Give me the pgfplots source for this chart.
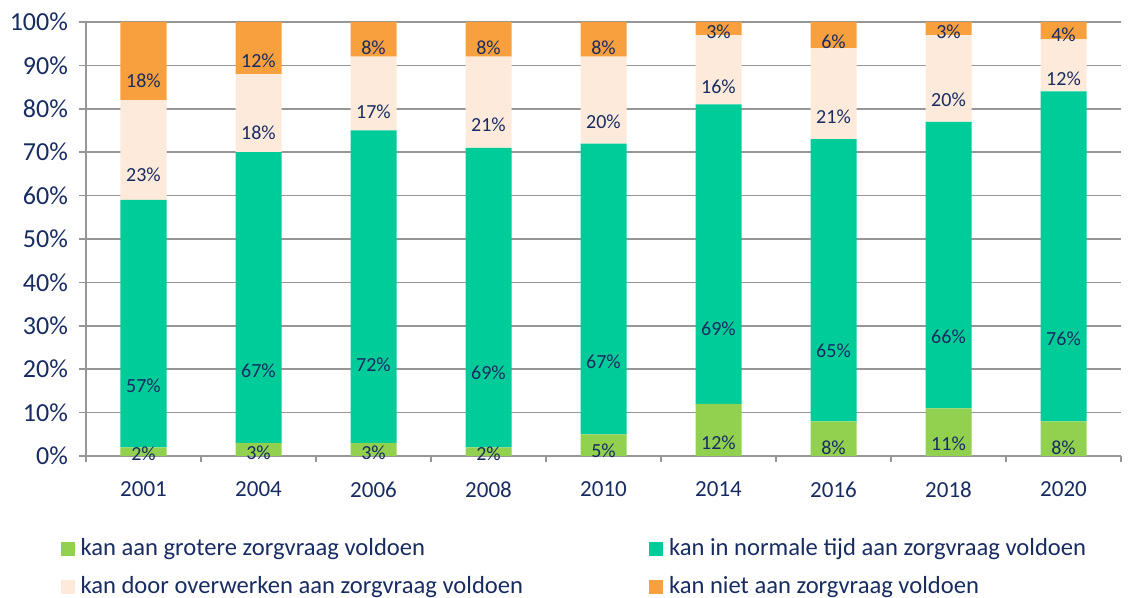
\documentclass[border=0pt]{standalone}
\usepackage{fontspec}
\setmainfont{Carlito}
\usepackage{pgfplots}
\pgfplotsset{compat=1.18}
\usepackage{pgfplotstable}
\definecolor{cgreen}{RGB}{146,208,80}
\definecolor{cteal}{RGB}{0,204,153}
\definecolor{cpeach}{RGB}{253,234,218}
\definecolor{corange}{RGB}{249,160,62}
\definecolor{cnavy}{RGB}{24,44,98}
\definecolor{cgrid}{RGB}{150,150,150}
\makeatletter
\pgfplotsset{
  nodes near coords vertically centered/.style={
    every node near coord/.append style={
      /pgfplots/calculate offset/.code={%
        \pgfkeys{/pgf/fpu=true,/pgf/fpu/output format=fixed}%
        \pgfmathsetmacro\testmacro{0.25*(\pgfplotspointmeta*10^\pgfplots@data@scale@trafo@EXPONENT@y)*\pgfplots@y@veclength}%
        \pgfkeys{/pgf/fpu=false}%
      },
      /pgfplots/calculate offset,
      yshift=-\testmacro pt,
    },
    nodes near coords align=center,
  },
}
\makeatother
\pgfplotstableread{
x a b c d
0 2 57 23 18
1 3 67 18 12
2 3 72 17 8
3 2 69 21 8
4 5 67 20 8
5 12 69 16 3
6 8 65 21 6
7 11 66 20 3
8 8 76 12 4
}\datatable
\begin{document}
\begin{tikzpicture}
\useasboundingbox (0,0) rectangle (564.5pt,299pt);
\begin{axis}[
  at={(43pt,71pt)}, anchor=south west,
  scale only axis, width=517.5pt, height=217pt,
  ybar stacked, bar width=23pt,
  xmin=-0.5, xmax=8.5, ymin=0, ymax=100,
  xtick={0,...,8},
  xticklabels={2001,2004,2006,2008,2010,2014,2016,2018,2020},
  minor xtick={-0.5,0.5,...,8.5},
  major x tick style={draw=none},
  minor x tick style={draw=cgrid, line width=0.75pt},
  minor tick length=3pt,
  ytick={0,10,...,100},
  yticklabel={\pgfmathprintnumber{\tick}\%},
  y tick style={draw=cgrid, line width=0.75pt},
  major tick length=3.5pt,
  tick align=outside,
  ymajorgrids, grid style={draw=cgrid, line width=0.75pt},
  axis x line*=bottom, axis y line*=left,
  axis line style={draw=cgrid, line width=0.75pt, -},
  /pgf/number format/assume math mode=true,
  yticklabel style={font=\fontsize{13}{15}\selectfont, text=cnavy, xshift=-2pt},
  xticklabel style={font=\fontsize{11.5}{13}\selectfont, text=cnavy, yshift=-6pt},
  nodes near coords={\pgfmathprintnumber{\pgfplotspointmeta}\%},
  nodes near coords vertically centered,
  every node near coord/.append style={font=\fontsize{10}{11}\selectfont, text=cnavy},
  clip=false,
  legend columns=2,
  legend cell align=left,
  legend image code/.code={\fill[#1,draw=none] (0pt,-3.5pt) rectangle (7pt,3.5pt); \path (0pt,0pt) -- (9pt,0pt);},
  legend style={at={(axis description cs:-0.025,-0.185)}, anchor=north west,
    draw=none, fill=none, inner sep=0pt, row sep=7pt,
    font=\fontsize{12.3}{14}\selectfont, text=cnavy,
    nodes={inner sep=1pt},
    /tikz/every even column/.append style={column sep=62pt}},
]
\addplot[fill=cgreen, draw=none] table[x=x,y=a] {\datatable};
\addlegendentry{kan aan grotere zorgvraag voldoen}
\addplot[fill=cteal, draw=none] table[x=x,y=b] {\datatable};
\addlegendentry{kan in normale tijd aan zorgvraag voldoen}
\addplot[fill=cpeach, draw=none] table[x=x,y=c] {\datatable};
\addlegendentry{kan door overwerken aan zorgvraag voldoen}
\addplot[fill=corange, draw=none] table[x=x,y=d] {\datatable};
\addlegendentry{kan niet aan zorgvraag voldoen}
\end{axis}
\end{tikzpicture}
\end{document}
